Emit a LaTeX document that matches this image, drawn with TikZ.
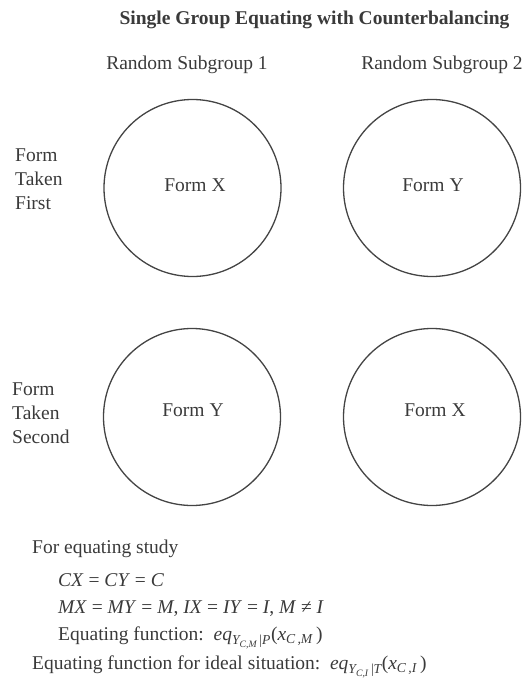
\documentclass[tikz,border=0pt]{standalone}
\usepackage{fontspec}
\usepackage{amsmath}
\setmainfont{Liberation Serif}
\definecolor{ink}{HTML}{3A3A3A}
\definecolor{rim}{HTML}{444444}
\newcommand\mi[1]{\textit{#1}}
\begin{document}
\begin{tikzpicture}[x=1pt,y=-1pt,
  every node/.style={inner sep=0pt, text=ink, font=\fontsize{19.5}{24}\selectfont},
  group/.style={circle, draw=rim, line width=1.3pt, minimum size=177pt},
  formlabel/.style={},
  rowlabel/.style={anchor=west, align=left},
  noteline/.style={anchor=base west}]
  \useasboundingbox (0,0) rectangle (529,687);

  % heading and column captions
  \node[font=\bfseries\fontsize{19.5}{24}\selectfont] (title) at (314.5,20) {Single Group Equating with Counterbalancing};
  \node (sg1) at (187,65) {Random Subgroup 1};
  \node (sg2) at (442,65) {Random Subgroup 2};

  % the four administrations
  \node[group] (c11) at (192.5,188) {};
  \node[group] (c12) at (432,188) {};
  \node[group] (c21) at (192,417) {};
  \node[group] (c22) at (432,417) {};
  \node[formlabel] (f11) at (195,185) {Form X};
  \node[formlabel] (f12) at (433,185) {Form Y};
  \node[formlabel] (f21) at (193,410) {Form Y};
  \node[formlabel] (f22) at (435,410) {Form X};

  % row captions
  \node[rowlabel] (r1) at (15,179) {Form\\Taken\\First};
  \node[rowlabel] (r2) at (12,413) {Form\\Taken\\Second};

  % design notes
  \node[noteline] (n1) at (32,553) {For equating study};
  \node[noteline] (n2) at (58,586) {\mi{CX} = \mi{CY} = \mi{C}};
  \node[noteline] (n3) at (58,613) {\mi{MX} = \mi{MY} = \mi{M}, \mi{IX} = \mi{IY} = \mi{I}, \mi{M} ≠ \mi{I}};
  \node[noteline] (n4) at (58,640) {Equating function:\ \ $\mi{eq}_{\mi{Y}_{\mi{C,M}}\text{\,|}\mi{P}}$(\mi{x}$_{\mi{C\,,M}}$\,)};
  \node[noteline] (n5) at (32,669) {Equating function for ideal situation:\ \ $\mi{eq}_{\mi{Y}_{\mi{C,I}}\text{\,|}\mi{T}}$(\mi{x}$_{\mi{C\,,I}}$\,)};
\end{tikzpicture}
\end{document}
